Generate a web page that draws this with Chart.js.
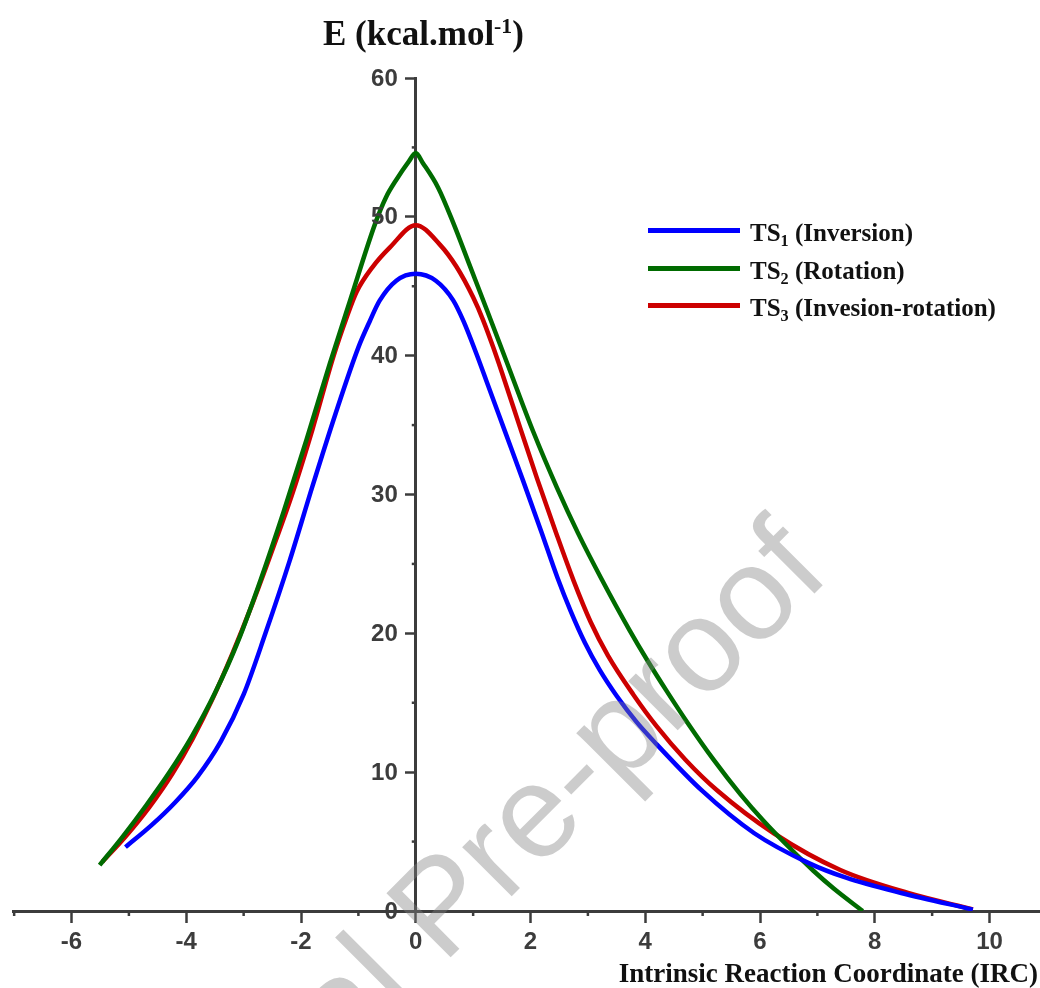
<!DOCTYPE html>
<html>
<head>
<meta charset="utf-8">
<script src="https://cdn.jsdelivr.net/npm/chart.js@4.4.1/dist/chart.umd.min.js"></script>
<style>
    body { margin: 0; background: #fff; }
    #wrap { position: relative; width: 1040px; height: 988px; overflow: hidden; }
    #irc-chart { position: absolute; left: 0; top: 0; }
    .serif { position: absolute; font-family: 'Liberation Serif', 'Times New Roman', serif; font-weight: bold; color: #111; white-space: nowrap; }
    #y-title { left: 323px; top: 16px; font-size: 35px; line-height: 35px; }
    #y-title sup { font-size: 62%; vertical-align: 0.55em; line-height: 0; }
    #x-title { right: 2px; top: 960px; font-size: 27px; line-height: 27px; }
    #legend { position: absolute; left: 648px; top: 220px; }
    .legend-row { position: relative; height: 37.5px; }
    .legend-line { position: absolute; left: 0; width: 92px; height: 5px; top: 8px; }
    .legend-text { left: 102px; top: 0; font-size: 25px; line-height: 25px; }
    .legend-text sub { font-size: 65%; vertical-align: -0.28em; line-height: 0; }
</style>
</head>
<body>
<div id="wrap">
    <canvas id="irc-chart" width="1040" height="988"></canvas>
    <div id="y-title" class="serif">E (kcal.mol<sup>-1</sup>)</div>
    <div id="legend"></div>
    <div id="x-title" class="serif">Intrinsic Reaction Coordinate (IRC)</div>
</div>
<script>
// --- Data ---
const seriesNames = ['TS', 'TS', 'TS'];
const seriesSubs = ['1', '2', '3'];
const seriesDesc = ['(Inversion)', '(Rotation)', '(Invesion-rotation)'];
const seriesColors = ['#0000ff', '#006b00', '#cc0000'];

// TS1 (Inversion)
const ircTs1 = [-5.06, -4.6, -4.2, -3.8, -3.4, -3.0, -2.62, -2.2, -1.8, -1.4, -1.0, -0.8, -0.63, -0.34, 0,
    0.35, 0.65, 0.83, 1.06, 1.23, 1.55, 1.87, 2.19, 2.47, 2.7, 2.95, 3.2, 3.5, 3.85, 4.2, 4.98, 5.9, 6.85, 7.5, 8.46, 9.71];
const energyTs1 = [4.6, 6.2, 7.8, 9.7, 12.2, 15.6, 20.0, 25.2, 30.6, 35.8, 40.6, 42.5, 43.96, 45.4, 45.9,
    45.4, 44.0, 42.5, 40.1, 38.2, 34.6, 31.0, 27.3, 24.0, 21.6, 19.3, 17.4, 15.5, 13.6, 12.0, 8.7, 5.6, 3.45, 2.4, 1.3, 0.1];

// TS2 (Rotation)
const ircTs2 = [-5.51, -5.1, -4.7, -4.3, -3.9, -3.5, -3.1, -2.7, -2.3, -1.9, -1.5, -1.15, -0.7, -0.52, -0.35, -0.12, 0,
    0.12, 0.39, 0.65, 0.94, 1.23, 1.58, 2.05, 2.46, 2.83, 3.24, 3.73, 4.03, 4.38, 4.73, 5.19, 5.66, 6.06, 6.48, 6.93, 7.29, 7.79];
const energyTs2 = [3.3, 5.4, 7.6, 9.95, 12.6, 15.7, 19.4, 23.9, 28.8, 34.0, 39.4, 43.9, 49.6, 51.4, 52.6, 54.0, 54.6,
    53.9, 52.1, 49.6, 46.5, 43.4, 39.6, 34.5, 30.5, 27.2, 23.9, 20.2, 18.1, 15.8, 13.6, 10.9, 8.4, 6.5, 4.7, 2.9, 1.6, 0];

// TS3 (Invesion-rotation)
const ircTs3 = [-5.46, -5.05, -4.64, -4.24, -3.89, -3.54, -3.2, -2.85, -2.5, -2.14, -1.8, -1.43, -1.2, -1.03, -0.75, -0.45, 0,
    0.42, 0.71, 1.0, 1.17, 1.35, 1.5, 1.82, 2.11, 2.44, 2.75, 3.05, 3.35, 3.79, 4.2, 4.7, 5.25, 6.24, 7.4, 8.58, 9.71];
const energyTs3 = [3.55, 5.4, 7.5, 9.9, 12.4, 15.3, 18.5, 22.1, 26.0, 30.2, 34.7, 40.0, 42.8, 44.6, 46.4, 47.8, 49.4,
    48.0, 46.4, 44.2, 42.6, 40.6, 38.8, 34.8, 31.2, 27.3, 23.8, 20.8, 18.4, 15.6, 13.3, 10.9, 8.7, 5.6, 2.95, 1.3, 0.12];

const xTicks = [-6, -4, -2, 0, 2, 4, 6, 8, 10];
const yTicks = [0, 10, 20, 30, 40, 50, 60];
const xMinorTicks = [-7, -5, -3, -1, 1, 3, 5, 7, 9];
const yMinorTicks = [5, 15, 25, 35, 45, 55];

const axisColor = '#3c3c3c';
const tickFontCss = 'bold 24px "Liberation Sans", Arial, sans-serif';

function toPoints(xs, ys) {
    return xs.map((x, i) => ({ x: x, y: ys[i] }));
}

// --- y labels (left of the centred axis), minor ticks, watermark ---
const axisExtrasPlugin = {
    id: 'axisExtras',
    afterDatasetsDraw(chart) {
        const { ctx, scales: { x, y } } = chart;
        const x0 = x.getPixelForValue(0);
        const y0 = y.getPixelForValue(0);
        ctx.save();
        ctx.strokeStyle = axisColor;
        ctx.lineWidth = 2.5;
        xMinorTicks.forEach(v => {
            const px = x.getPixelForValue(v);
            ctx.beginPath();
            ctx.moveTo(px, y0);
            ctx.lineTo(px, y0 + 5);
            ctx.stroke();
        });
        yMinorTicks.forEach(v => {
            const py = y.getPixelForValue(v);
            ctx.beginPath();
            ctx.moveTo(x0, py);
            ctx.lineTo(x0 - 4, py);
            ctx.stroke();
        });

        ctx.fillStyle = axisColor;
        ctx.font = tickFontCss;
        ctx.textAlign = 'right';
        ctx.textBaseline = 'middle';
        y.ticks.forEach(t => {
            ctx.fillText(String(t.value), x0 - 18, y.getPixelForValue(t.value) + 1);
        });
        ctx.restore();
    }
};

const watermarkPlugin = {
    id: 'watermark',
    afterDraw(chart) {
        const ctx = chart.ctx;
        ctx.save();
        ctx.translate(111, 1297);
        ctx.rotate(-Math.PI / 4);
        ctx.font = '132px "Liberation Sans", Arial, sans-serif';
        ctx.fillStyle = 'rgba(128, 128, 128, 0.4)';
        ctx.textBaseline = 'alphabetic';
        ctx.fillText('Journal Pre-proof', 0, 0);
        ctx.restore();
    }
};

function buildLegend() {
    const legend = document.getElementById('legend');
    seriesNames.forEach((name, i) => {
        const row = document.createElement('div');
        row.className = 'legend-row';
        row.innerHTML = `
            <div class="legend-line" style="background:${seriesColors[i]}"></div>
            <div class="legend-text serif">${name}<sub>${seriesSubs[i]}</sub> ${seriesDesc[i]}</div>
        `;
        legend.appendChild(row);
    });
}

function initIrcChart() {
    const ctx = document.getElementById('irc-chart');
    const seriesData = [[ircTs1, energyTs1], [ircTs2, energyTs2], [ircTs3, energyTs3]];
    const tickFont = { family: '"Liberation Sans", Arial, sans-serif', size: 24, weight: 'bold' };

    new Chart(ctx.getContext('2d'), {
        type: 'line',
        data: {
            datasets: seriesData.map((d, i) => ({
                label: seriesNames[i] + seriesSubs[i] + ' ' + seriesDesc[i],
                data: toPoints(d[0], d[1]),
                borderColor: seriesColors[i],
                borderWidth: 4.5,
                pointRadius: 0,
                fill: false,
                cubicInterpolationMode: 'monotone',
                borderCapStyle: 'butt'
            }))
        },
        options: {
            responsive: false,
            animation: false,
            layout: { padding: { left: 13, right: 0, top: 78, bottom: 77 } },
            plugins: { legend: { display: false }, tooltip: { enabled: false } },
            scales: {
                x: {
                    type: 'linear',
                    position: { y: 0 },
                    min: -7.02,
                    max: 10.88,
                    afterBuildTicks: axis => { axis.ticks = xTicks.map(v => ({ value: v })); },
                    grid: { drawOnChartArea: false, drawTicks: true, tickLength: 10, tickWidth: 2.5, tickColor: axisColor },
                    border: { display: true, color: axisColor, width: 3 },
                    ticks: { color: axisColor, font: tickFont, padding: 7, maxRotation: 0, autoSkip: false }
                },
                y: {
                    type: 'linear',
                    position: { x: 0 },
                    min: 0,
                    max: 60,
                    afterBuildTicks: axis => { axis.ticks = yTicks.map(v => ({ value: v })); },
                    grid: { drawOnChartArea: false, drawTicks: true, tickLength: 9, tickWidth: 2.5, tickColor: axisColor },
                    border: { display: true, color: axisColor, width: 3 },
                    ticks: { display: false, autoSkip: false }
                }
            }
        },
        plugins: [axisExtrasPlugin, watermarkPlugin]
    });
}

document.addEventListener('DOMContentLoaded', () => {
    buildLegend();
    initIrcChart();
});
</script>
</body>
</html>
